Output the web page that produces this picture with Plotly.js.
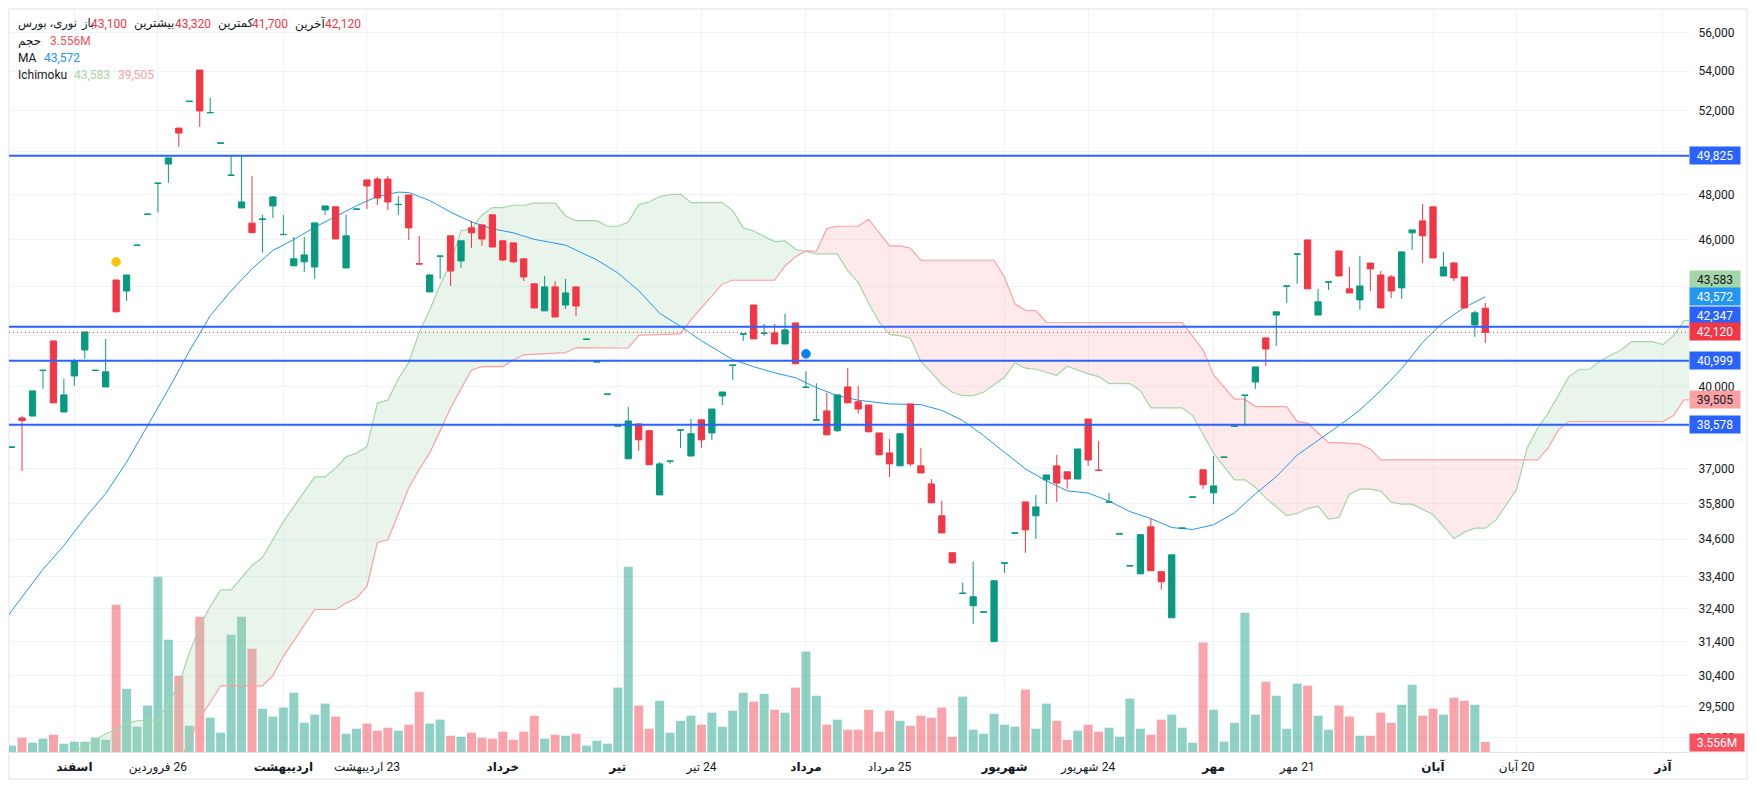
<!DOCTYPE html>
<html><head><meta charset="utf-8">
<script src="https://cdn.plot.ly/plotly-3.0.1.min.js"></script>
<style>html,body{margin:0;padding:0;background:#fff}#c{width:1757px;height:790px}</style>
</head><body><div id="c"></div>
<script>
const opens=[37760,38830,38900,40620,41780,39050,40410,41420,40620,39990,44270,43810,45750,47120,48530,49430,51150,52460,54050,51900,50420,48900,47410,46730,46900,47500,46220,44870,45040,44820,47320,47460,44780,47350,48690,48730,48730,47560,48000,44960,43770,45280,46170,45080,46520,46650,47100,45950,45860,45170,44110,42990,43980,43230,43980,41840,40950,39710,38530,37350,38610,38360,36090,37260,38380,37450,38760,38280,39650,40820,42050,43230,42080,42100,41660,42500,39970,38750,39090,38360,39990,39430,39310,38280,37560,37100,39350,37100,36470,35380,34160,32860,32480,32280,31390,33820,34800,35850,35380,36610,37100,36890,36640,38790,36950,35840,34770,33730,33480,35010,33550,32110,34960,36010,36960,36160,37400,38520,39670,40180,41900,42820,44010,45370,45990,42820,44180,45510,43900,43440,44990,44480,44400,43940,46300,46830,47460,44440,44990,44400,42420,43100];
const highs=[37770,38910,39840,40630,41780,40300,41070,42140,40630,41860,44270,44480,45760,47130,48540,49720,51150,52470,54050,52640,50430,49820,49820,48870,47100,47950,47100,46120,46120,46740,47500,47460,47100,47360,48690,48830,48870,47950,48000,46170,44530,45290,46170,45950,46830,46650,47100,45950,45860,45170,44110,44440,44230,44320,43980,41850,40960,39720,38540,39240,38610,38360,37240,37270,38390,38790,38760,39160,39800,40830,42060,43230,42460,42460,42870,42500,40590,40130,39770,39690,40720,40030,39310,38280,38060,38250,39350,37740,36640,35890,34160,33200,33870,32290,33260,33830,34810,35850,36090,36780,37490,36890,37700,38790,37990,36160,34780,33740,34750,35280,33550,34090,34970,36020,36960,37450,37410,38530,39680,40760,41900,42950,44020,45380,45990,43900,44190,45510,44820,45300,44990,44650,44480,45470,46430,47590,47460,45470,45040,44400,42990,43320];
const lows=[37760,36920,38900,39920,39390,39050,40030,41070,40620,39990,42950,43400,45750,47120,47200,48560,50240,52460,51200,51900,50420,48900,47410,46310,45440,46960,46220,44870,44610,44320,47100,46030,44780,47350,47360,47550,47320,47100,45990,44950,43770,44320,44020,44780,45640,45730,45680,45080,44990,44230,43110,42990,42740,43070,42780,41840,40950,39710,38530,37350,37630,37140,36090,37170,37740,37450,37740,38030,39310,40260,41780,41860,41980,41660,41660,40880,39970,38750,38210,38320,39390,38980,38320,37490,36710,37100,37100,36850,35820,34810,33830,32860,31930,32280,31390,33510,34800,34160,34610,35780,35850,36300,36640,37100,36940,35840,34770,33730,33480,33580,32980,32110,34960,36010,36300,35780,37400,38520,38530,39920,40800,41580,43320,44110,43900,42820,43850,44440,43730,43030,43810,43110,43520,43480,45550,44990,45210,44440,44230,43110,41940,41700];
const closes=[37770,38730,39840,40630,39390,39690,40990,42140,40630,40570,42950,44480,45760,47130,48540,49720,50910,52470,51990,51910,50430,48910,47680,46310,46910,47910,46230,45170,45340,46740,47500,46030,46170,47360,48410,47860,47680,47570,46520,44950,44480,45290,44650,45950,46300,46030,45680,45120,45040,44400,43110,43980,42740,43730,43190,41850,40960,39720,38540,38720,38030,37140,37170,37270,38390,38250,38030,39160,39800,40830,42060,41860,42090,41660,42220,40880,39980,38760,38210,39690,39390,39160,38320,37490,37170,38250,37170,36850,35820,34810,33830,32870,32760,32290,33260,33830,34810,34910,35680,36780,36500,36640,37700,37310,36940,35850,34780,33740,34750,33580,33230,34090,34970,36020,36440,36400,37410,38530,39680,40760,41460,42950,44020,45380,43900,43360,44190,44440,43730,44020,44740,43110,43810,45470,46430,46170,45210,44820,44360,43110,42910,42120];
const volumes=[2.24,5.09,3.31,4.73,6.15,2.95,3.66,3.66,5.09,4.37,52.4,22.5,9.0,16.5,62.3,39.9,27.1,9.35,48.1,12.2,6.86,41.7,48.1,36.7,15.4,12.6,15.8,21.1,10.4,13.3,17.2,12.6,6.5,8.29,10.1,7.57,8.64,7.57,9.71,21.4,10.1,11.5,5.8,5.44,6.86,5.09,4.73,7.22,4.37,7.22,12.9,4.73,6.15,5.8,6.5,2.24,4.02,2.95,22.9,65.9,16.5,8.29,18.2,6.86,11.1,12.9,9.71,14.0,9.0,14.7,21.1,17.9,20.7,15.0,14.0,22.9,35.7,20.0,9.71,11.5,7.93,7.93,15.0,7.22,14.7,11.1,9.35,12.9,12.2,15.8,5.44,19.7,7.93,6.5,13.6,9.71,9.0,22.2,8.29,17.2,11.1,4.37,7.57,9.71,7.22,8.64,5.44,19.0,8.29,6.15,11.5,13.3,8.64,3.31,38.9,15.0,3.66,10.4,49.5,13.3,25.0,20.0,8.29,24.3,23.6,12.9,7.93,16.5,12.6,5.8,5.8,14.0,10.4,16.8,23.9,12.9,15.4,13.3,19.3,18.2,16.8,3.556];

const maBars=[-1,0,3,5,7,9,11,13,15,17,19,21,23,25,27,29,31,33,35,37,38,40,42,44,46,48,50,53,56,58,60,62,64,66,69,71,73,75,77,79,81,84,87,89,91,93,95,97,99,101,103,105,107,109,111,113,115,117,119,121,123,125,127,129,131,133,135,137,139,141];
const maValues=[31850,32325,33625,34391,35298,36136,37231,38522,39897,41372,42792,43812,44747,45532,46007,46544,47037,47510,47935,48127,48109,47744,47220,46783,46477,46301,46015,45762,45123,44571,43825,42894,42362,41787,41043,40767,40531,40343,39965,39663,39490,39350,39324,39109,38735,38184,37579,36994,36574,36229,36153,35879,35523,35287,34987,34924,35077,35480,36126,36718,37482,38000,38544,39120,39855,40693,41716,42540,43130,43572];

const spanABars=[5,7,9,10,11,12,14,16,17,18,19,20,21,23,24,26,29,30,31,32,33,34,35,36,37,38,39,40,41,42,43,44,45,46,47,48,49,50,52,53,54,56,57,58,59,60,61,62,63,64,65,68,69,70,71,73,74,75,77,79,80,81,82,83,84,85,86,87,88,89,90,91,92,93,95,96,97,98,100,101,103,104,105,107,108,109,112,113,115,117,118,119,120,122,123,124,125,126,127,128,129,130,131,132,133,134,136,138,139,140,141,142,143,144,145,146,147,149,150,151,152,153,154,155,157,158,159,160,161];
const spanAValues=[28136,28432,28758,28882,29053,29116,29144,30129,31050,31844,32457,32976,32976,33748,34004,35187,36714,36714,37019,37419,37549,37787,39377,39501,40297,40934,42125,43028,44063,44994,46384,46502,47095,47424,47424,47532,47532,47623,47623,47050,46841,46841,46592,46592,46783,47559,47680,47925,48017,48036,47650,47650,47288,46517,46384,45915,45945,45585,45381,45381,44654,44168,43303,42540,42030,41990,41887,40965,40547,40095,39790,39663,39663,39790,40362,40914,40709,40670,40439,40786,40489,40385,40119,40119,39851,39201,39201,38916,37549,36609,36609,36356,35978,35388,35456,35624,35705,35268,35322,36126,36287,36287,36218,35841,35774,35774,35421,34624,34834,34967,34967,35234,35750,36287,37728,38453,39000,40385,40670,40670,40992,41227,41423,41751,41751,41630,41990,42591,42591];
const spanBBars=[16,17,18,19,20,24,25,26,28,29,31,32,33,34,35,36,37,38,39,40,41,42,43,44,45,47,48,49,53,54,58,59,60,64,65,66,68,69,73,74,75,76,77,78,79,81,82,84,85,86,87,94,95,96,97,98,99,112,113,114,115,117,118,119,122,123,124,126,127,129,130,131,144,145,146,147,148,149,158,159,160,161];
const spanBValues=[27896,28606,29172,29633,30100,30100,30396,30956,31867,32364,32364,32562,32717,33080,34492,34581,35445,36336,36973,37561,38355,39201,39916,40643,40771,40771,41031,41227,41315,41512,41500,41500,42005,42058,42621,43098,44105,44260,44260,44866,45265,45511,45498,46486,46592,46592,46903,45727,45727,45628,45110,45110,44387,43275,43015,42999,42528,42512,41965,41423,40451,39527,39527,39250,39250,38695,38636,37930,37930,37872,37704,37312,37312,37312,37312,37728,38391,38695,38695,38916,39501,39501];
const cloudCrossBars=[76.3,144.7];
const cloudCrossValues=[45490,37312];

const levelValues=[49825,42347,40999,38578];
const lastPrice=42120;
const dotBars=[10,76];
const dotValues=[45040,41270];
const priceTicks=[56000,54000,52000,50000,48000,46000,44000,42000,40000,38500,37000,35800,34600,33400,32400,31400,30400,29500,28650];
const priceTickText=['56,000','54,000','52,000','','48,000','46,000','','','40,000','','37,000','35,800','34,600','33,400','32,400','31,400','30,400','29,500','28,650'];
const timeTicks=[6,14,26,34,47,58,66,76,84,95,103,115,123,136,144,158];
const timeTickText=['<b>اسفند</b>','\u200F26 فروردین','<b>اردیبهشت</b>','\u200F23 اردیبهشت','<b>خرداد</b>','<b>تیر</b>','\u200F24 تیر','<b>مرداد</b>','\u200F25 مرداد','<b>شهریور</b>','\u200F24 شهریور','<b>مهر</b>','\u200F21 مهر','<b>آبان</b>','\u200F20 آبان','<b>آذر</b>'];

const GREEN='#089981',RED='#f23645',BLUE='#2962ff',MA='#2196f3',SA='#a5d6a7',SB='#faa1a4',INK='#131722',GRID='#f0f3fa';
const FONT='Roboto, "Noto Sans", "DejaVu Sans", sans-serif';
const PL=9,PR=1689,PT=10,PB=752,PW=PR-PL,PH=PB-PT;
const xRange=[-0.25,160.49];
const priceRange=[Math.log10(28264),Math.log10(57226)];
const bars=opens.map((_,i)=>i);

function part(idx,vals,from,to){
  const x=[],y=[];
  idx.forEach((b,k)=>{if(b>from&&b<to){x.push(b);y.push(vals[k]);}});
  return {x,y};
}
function cloud(from,fromVal,to,toVal,color){
  const a=part(spanABars,spanAValues,from,to),b=part(spanBBars,spanBValues,from,to);
  [a,b].forEach(p=>{
    if(fromVal!==null){p.x.unshift(from);p.y.unshift(fromVal);}
    if(toVal!==null){p.x.push(to);p.y.push(toVal);}
  });
  const base={type:'scatter',mode:'lines',yaxis:'y2',line:{width:0},hoverinfo:'skip',showlegend:false};
  return [Object.assign({},base,{x:b.x,y:b.y}),Object.assign({},base,{x:a.x,y:a.y,fill:'tonexty',fillcolor:color})];
}
const CG='rgba(165,214,167,0.24)',CR='rgba(250,161,164,0.22)';
const traces=[
  {type:'bar',x:bars,y:volumes,yaxis:'y',width:0.86,
   marker:{color:bars.map(i=>closes[i]<opens[i]?'rgba(242,54,69,0.45)':'rgba(8,153,129,0.45)'),line:{width:0}},hoverinfo:'skip'},
  ...cloud(-10,null,cloudCrossBars[0],cloudCrossValues[0],CG),
  ...cloud(cloudCrossBars[0],cloudCrossValues[0],cloudCrossBars[1],cloudCrossValues[1],CR),
  ...cloud(cloudCrossBars[1],cloudCrossValues[1],999,null,CG),
  {type:'scatter',mode:'lines',x:spanABars,y:spanAValues,yaxis:'y2',line:{color:SA,width:1.2},hoverinfo:'skip'},
  {type:'scatter',mode:'lines',x:spanBBars,y:spanBValues,yaxis:'y2',line:{color:SB,width:1.2},hoverinfo:'skip'},
  {type:'scatter',mode:'lines',x:maBars,y:maValues,yaxis:'y2',line:{color:MA,width:1},hoverinfo:'skip'},
  {type:'candlestick',x:bars,open:opens,high:highs,low:lows,close:closes,yaxis:'y3',whiskerwidth:0,
   increasing:{line:{color:GREEN,width:1},fillcolor:GREEN},decreasing:{line:{color:RED,width:1},fillcolor:RED},hoverinfo:'skip'},
  ...levelValues.map(v=>({type:'scatter',mode:'lines',x:xRange,y:[v,v],yaxis:'y3',line:{color:BLUE,width:2},hoverinfo:'skip'})),
  {type:'scatter',mode:'lines',x:xRange,y:[lastPrice,lastPrice],yaxis:'y3',line:{color:RED,width:1,dash:'1px,3px'},hoverinfo:'skip'},
  {type:'scatter',mode:'markers',x:[dotBars[0]],y:[dotValues[0]],yaxis:'y3',marker:{size:9,color:'#f7c600',line:{color:'#f9d84a',width:1}},hoverinfo:'skip'},
  {type:'scatter',mode:'markers',x:[dotBars[1]],y:[dotValues[1]],yaxis:'y3',marker:{size:9,color:'#0a80ee',line:{color:'#3d9bf2',width:1}},hoverinfo:'skip'}
];

function txt(px,py,text,color,size){
  return {xref:'paper',yref:'paper',x:(px-1-PL)/PW,y:(PB-py)/PH,xanchor:'left',yanchor:'middle',text:text,showarrow:false,
    font:{family:FONT,size:size||12,color:color||INK},borderpad:0};
}
function tag(value,label,bg,fg,shift){
  return {xref:'paper',yref:'y2',x:1,y:Math.log10(value),xanchor:'left',yanchor:'middle',yshift:shift||0,text:label,showarrow:false,
    bgcolor:bg,width:50,height:17,align:'center',valign:'middle',borderpad:0,font:{family:FONT,size:12,color:fg}};
}
const annotations=[
  txt(18,24,'نوری، بورس',INK,11.5),txt(80.5,24,'باز',INK,11.5),txt(90.5,24,'43,100',RED),txt(133.5,24,'بیشترین'),txt(174.5,24,'43,320',RED),
  txt(218,24,'کمترین'),txt(252,24,'41,700',RED),txt(295,24,'آخرین'),txt(324.5,24,'42,120',RED),
  txt(18,41,'حجم'),txt(50,41,'3.556M','#f7525f'),
  txt(18,58,'MA'),txt(43.5,58,'43,572',MA),
  txt(18,75,'Ichimoku'),txt(74,75,'43,583',SA),txt(117.5,75,'39,505',SB),
  tag(49825,'49,825',BLUE,'#fff'),
  tag(43583,'43,583',SA,INK,17),
  tag(43572,'43,572',MA,'#fff'),
  tag(42347,'42,347',BLUE,'#fff',11),
  tag(42120,'42,120',RED,'#fff',1),
  tag(40999,'40,999',BLUE,'#fff'),
  tag(39505,'39,505',SB,INK),
  tag(38578,'38,578',BLUE,'#fff'),
  {xref:'paper',yref:'y',x:1,y:3.556,xanchor:'left',yanchor:'middle',text:'3.556M',showarrow:false,bgcolor:'#f7525f',width:54,height:17,
   align:'center',valign:'middle',borderpad:0,font:{family:FONT,size:12,color:'#fff'}}
];
const shapes=[
  {type:'rect',xref:'paper',yref:'paper',layer:'below',x0:0,x1:(1747-PL)/PW,y0:(PB-779)/PH,y1:(PB-9)/PH,line:{color:'#eff1f6',width:2}},
  {type:'line',xref:'paper',yref:'paper',layer:'below',x0:1,x1:(1747-PL)/PW,y0:0,y1:0,line:{color:'#e0e3eb',width:1}}
];
const layout={
  width:1757,height:790,margin:{l:PL,r:1757-PR,t:PT,b:790-PB,pad:0},
  paper_bgcolor:'#fff',plot_bgcolor:'#fff',showlegend:false,hovermode:false,dragmode:false,
  boxgap:0.2,boxgroupgap:0.25,bargap:0.1,
  xaxis:{type:'linear',range:xRange,tickmode:'array',tickvals:timeTicks,ticktext:timeTickText,showgrid:true,gridcolor:GRID,gridwidth:1,
    zeroline:false,showline:true,linecolor:'#e0e3eb',linewidth:1,ticks:'outside',ticklen:4,tickcolor:'rgba(0,0,0,0)',
    tickfont:{family:FONT,size:12,color:INK},rangeslider:{visible:false},fixedrange:true},
  yaxis:{range:[0,PH*0.3556],visible:false,showgrid:false,zeroline:false,fixedrange:true},
  yaxis2:{overlaying:'y',side:'right',anchor:'x',type:'log',range:priceRange,tickmode:'array',tickvals:priceTicks,ticktext:priceTickText,
    showgrid:true,gridcolor:GRID,gridwidth:1,zeroline:false,showline:false,ticks:'outside',ticklen:6,tickcolor:'rgba(0,0,0,0)',
    tickfont:{family:FONT,size:12,color:INK},fixedrange:true},
  yaxis3:{overlaying:'y',side:'right',anchor:'x',type:'log',range:priceRange,visible:false,showgrid:false,zeroline:false,fixedrange:true},
  annotations:annotations,shapes:shapes,font:{family:FONT}
};
Plotly.newPlot('c',traces,layout,{displayModeBar:false,staticPlot:true,responsive:false});
</script></body></html>
